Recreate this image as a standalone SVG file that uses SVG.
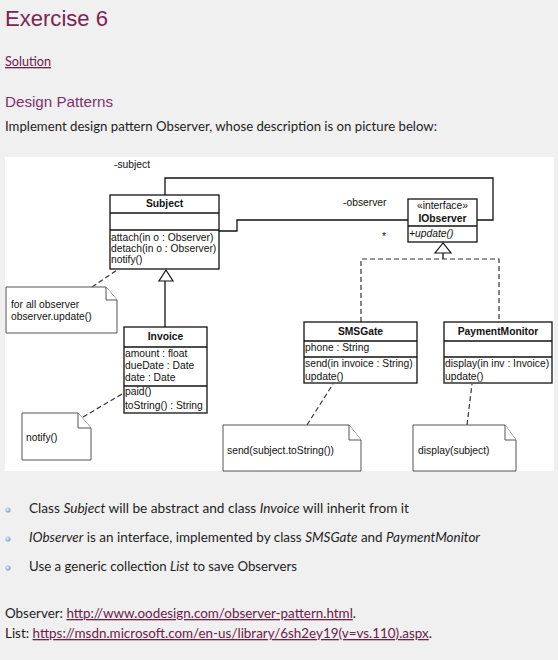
<svg xmlns="http://www.w3.org/2000/svg" width="558" height="660" viewBox="0 0 558 660">
<defs>
<style>
.page{font-family:Lato,"Open Sans",sans-serif;font-size:13px;fill:#1e1e1e}
.link{fill:#6d2048;text-decoration:underline}
.uml{font-family:"Liberation Sans",Arial,sans-serif;font-size:10.3px;fill:#111}
.b{font-weight:bold}
.i{font-style:italic}
.box{fill:#fff;stroke:#111;stroke-width:1.3}
.div{stroke:#111;stroke-width:1.3;fill:none}
.note{fill:#fff;stroke:#555;stroke-width:1}
.solid{fill:none;stroke:#111;stroke-width:1.3}
.dash{fill:none;stroke:#333;stroke-width:1.2;stroke-dasharray:5,3}
.tri{fill:#fff;stroke:#111;stroke-width:1.2}
</style>
<radialGradient id="bul" cx="0.4" cy="0.4" r="0.6">
<stop offset="0" stop-color="#e6effa"/>
<stop offset="1" stop-color="#7d9fcc"/>
</radialGradient>
</defs>
<rect x="0" y="0" width="558" height="660" fill="#f0f0f0"/>

<g id="header">
<text x="5" y="26" font-family="Liberation Sans,Arial,sans-serif" font-size="22" fill="#7a2650" textLength="103" lengthAdjust="spacingAndGlyphs">Exercise 6</text>
<text x="5" y="66" class="page link" textLength="46" lengthAdjust="spacingAndGlyphs">Solution</text>
<text x="5" y="107" font-family="Liberation Sans,Arial,sans-serif" font-size="15" fill="#7e2f6e" textLength="108" lengthAdjust="spacingAndGlyphs">Design Patterns</text>
<text x="5" y="131" class="page" textLength="432" lengthAdjust="spacingAndGlyphs">Implement design pattern Observer, whose description is on picture below:</text>
</g>

<rect x="5" y="157" width="549" height="314" fill="#fff"/>

<g id="connectors">
<polyline class="solid" points="165,195 165,178 493,178 493,220 477,220"/>
<polyline class="solid" points="219,231 237,231 237,220 408,220"/>
<line class="solid" x1="165" y1="281" x2="165" y2="327"/>
<polygon class="tri" points="166,270 159,281 173,281"/>
<polygon class="tri" points="443,243 435,253 451,253"/>
<line class="solid" x1="443" y1="253" x2="443" y2="259"/>
<polyline class="dash" points="361,322 361,259 499,259 499,322"/>
<line class="dash" x1="92" y1="287" x2="117" y2="270"/>
<line class="dash" x1="83" y1="417" x2="122" y2="394"/>
<line class="dash" x1="307" y1="425" x2="333" y2="384"/>
<line class="dash" x1="467" y1="425" x2="472" y2="384"/>
<text class="uml" x="114" y="168">-subject</text>
<text class="uml" x="343" y="206">-observer</text>
<text class="uml" x="382" y="240">*</text>
</g>

<g id="Subject">
<rect class="box" x="110" y="195" width="109" height="74"/>
<line class="div" x1="110" y1="213" x2="219" y2="213"/>
<line class="div" x1="110" y1="230" x2="219" y2="230"/>
<text class="uml b" x="164.5" y="207" text-anchor="middle">Subject</text>
<text class="uml" x="111" y="241">attach(in o : Observer)</text>
<text class="uml" x="111" y="252">detach(in o : Observer)</text>
<text class="uml" x="111" y="263">notify()</text>
</g>

<g id="IObserver">
<rect class="box" x="408" y="199" width="69" height="43"/>
<line class="div" x1="408" y1="226" x2="477" y2="226"/>
<text class="uml" x="442.5" y="209" text-anchor="middle">«interface»</text>
<text class="uml b" x="442.5" y="222" text-anchor="middle">IObserver</text>
<text class="uml i" x="409" y="237">+update()</text>
</g>

<g id="Invoice">
<rect class="box" x="124" y="327" width="83" height="86"/>
<line class="div" x1="124" y1="347" x2="207" y2="347"/>
<line class="div" x1="124" y1="386" x2="207" y2="386"/>
<text class="uml b" x="165.5" y="340" text-anchor="middle">Invoice</text>
<text class="uml" x="125" y="357">amount : float</text>
<text class="uml" x="125" y="369">dueDate : Date</text>
<text class="uml" x="125" y="381">date : Date</text>
<text class="uml" x="125" y="395">paid()</text>
<text class="uml" x="125" y="409">toString() : String</text>
</g>

<g id="SMSGate">
<rect class="box" x="304" y="322" width="113" height="61"/>
<line class="div" x1="304" y1="341" x2="417" y2="341"/>
<line class="div" x1="304" y1="357" x2="417" y2="357"/>
<text class="uml b" x="360.5" y="335" text-anchor="middle">SMSGate</text>
<text class="uml" x="305" y="351">phone : String</text>
<text class="uml" x="305" y="367">send(in invoice : String)</text>
<text class="uml" x="305" y="380">update()</text>
</g>

<g id="PaymentMonitor">
<rect class="box" x="444" y="322" width="108" height="61"/>
<line class="div" x1="444" y1="341" x2="552" y2="341"/>
<line class="div" x1="444" y1="357" x2="552" y2="357"/>
<text class="uml b" x="498" y="335" text-anchor="middle">PaymentMonitor</text>
<text class="uml" x="445" y="367">display(in inv : Invoice)</text>
<text class="uml" x="445" y="380">update()</text>
</g>

<g id="note-forall">
<path class="note" d="M6,287 H106 L117,300 V333 H6 Z"/>
<path class="note" fill="none" d="M106,287 V300 H117"/>
<text class="uml" x="11" y="308">for all observer</text>
<text class="uml" x="11" y="320">observer.update()</text>
</g>

<g id="note-notify">
<path class="note" d="M22,413 H78 L91,428 V460 H22 Z"/>
<path class="note" fill="none" d="M78,413 V428 H91"/>
<text class="uml" x="26" y="441">notify()</text>
</g>

<g id="note-send">
<path class="note" d="M223,425 H349 L361,440 V471 H223 Z"/>
<path class="note" fill="none" d="M349,425 V440 H361"/>
<text class="uml" x="227" y="454">send(subject.toString())</text>
</g>

<g id="note-display">
<path class="note" d="M413,425 H505 L516,440 V471 H413 Z"/>
<path class="note" fill="none" d="M505,425 V440 H516"/>
<text class="uml" x="418" y="454">display(subject)</text>
</g>

<g id="bullets">
<circle cx="8" cy="510" r="2.6" fill="url(#bul)"/>
<circle cx="8" cy="539" r="2.6" fill="url(#bul)"/>
<circle cx="8" cy="568" r="2.6" fill="url(#bul)"/>
<text class="page" x="29" y="513" textLength="380" lengthAdjust="spacingAndGlyphs">Class <tspan font-style="italic">Subject</tspan> will be abstract and class <tspan font-style="italic">Invoice</tspan> will inherit from it</text>
<text class="page" x="29" y="542" textLength="451" lengthAdjust="spacingAndGlyphs"><tspan font-style="italic">IObserver</tspan> is an interface, implemented by class <tspan font-style="italic">SMSGate</tspan> and <tspan font-style="italic">PaymentMonitor</tspan></text>
<text class="page" x="29" y="571" textLength="268" lengthAdjust="spacingAndGlyphs">Use a generic collection <tspan font-style="italic">List</tspan> to save Observers</text>
</g>

<g id="links">
<text class="page" x="5" y="618" textLength="351" lengthAdjust="spacingAndGlyphs">Observer: <tspan class="link">http://www.oodesign.com/observer-pattern.html</tspan>.</text>
<text class="page" x="5" y="638" textLength="427" lengthAdjust="spacingAndGlyphs">List: <tspan class="link">https://msdn.microsoft.com/en-us/library/6sh2ey19(v=vs.110).aspx</tspan>.</text>
</g>
</svg>
